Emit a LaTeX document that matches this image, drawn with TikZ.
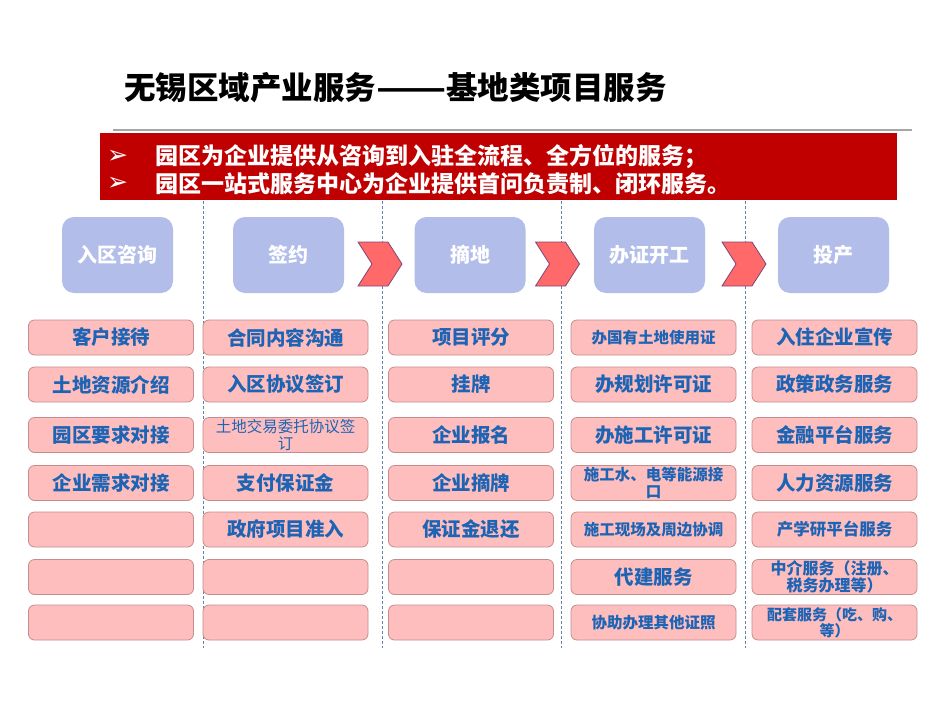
\documentclass[tikz,border=0pt]{standalone}
\usepackage{fontspec}
\usepackage{graphicx}
\setmainfont{Noto Sans CJK SC}
\newfontfamily\dejavu{DejaVu Sans}
\usetikzlibrary{shapes.symbols}
\definecolor{banred}{RGB}{192,0,0}
\definecolor{lav}{RGB}{178,189,234}
\definecolor{pinkf}{RGB}{255,190,190}
\definecolor{pinkd}{RGB}{196,140,140}
\definecolor{txtblue}{RGB}{30,100,180}
\definecolor{chev}{RGB}{255,105,105}
\definecolor{chevd}{RGB}{125,70,120}
\definecolor{dashc}{RGB}{100,130,170}
\tikzset{
  stage/.style={rounded corners=12pt, fill=lav, minimum width=111pt, minimum height=76pt,
    text=white, font=\bfseries\fontsize{20}{22}\selectfont, inner sep=0pt},
  item/.style={rounded corners=6pt, fill=pinkf, draw=pinkd, line width=0.8pt,
    minimum width=165pt, minimum height=35pt, text=txtblue,
    font=\bfseries\fontsize{19.5}{21}\selectfont, inner sep=0pt, align=center},
  small/.style={font=\bfseries\fontsize{15.5}{16.5}\selectfont},
  thin/.style={font=\fontsize{15.5}{16.5}\selectfont},
  chevron/.style={signal, signal from=west, signal to=east, signal pointer angle=115,
    fill=chev, draw=chevd, line width=0.8pt, minimum width=44pt, minimum height=44pt, inner sep=0pt},
  divider/.style={dashc, line width=0.6pt, dash pattern=on 3pt off 2pt},
  bantext/.style={text=white, font=\bfseries\fontsize{23}{25}\selectfont, anchor=west, inner sep=0pt},
  bullet/.style={text=white, font=\dejavu\fontsize{25}{26}\selectfont, anchor=west, inner sep=0pt}
}
\begin{document}
\begin{tikzpicture}[x=1pt,y=-1pt]
\useasboundingbox (0,0) rectangle (950,712);
% title
\node[anchor=west, inner sep=0pt, font=\bfseries\fontsize{31.5}{33}\selectfont] (title) at (124,88) {无锡区域产业服务\scalebox{1.3}[1]{——}基地类项目服务};
\draw[gray!70, line width=1.5pt] (113,130) -- (912,130);
% banner
\fill[banred] (100,133) rectangle (897,200);
\node[bullet] (b1) at (107,157) {➢};
\node[bullet] (b2) at (107,184) {➢};
\node[bantext] (l1) at (155,157) {园区为企业提供从咨询到入驻全流程、全方位的服务；};
\node[bantext] (l2) at (155,184) {园区一站式服务中心为企业提供首问负责制、闭环服务。};
% dividers
\foreach \x in {203,382,561,745} \draw[divider] (\x,201) -- (\x,648);
% stages
\node[stage] (t1) at (117.5,255) {入区咨询};
\node[stage] (t2) at (288.5,255) {签约};
\node[stage] (t3) at (470,255) {摘地};
\node[stage] (t4) at (649.5,255) {办证开工};
\node[stage] (t5) at (833.5,255) {投产};
\node[chevron] (a1) at (380,264) {};
\node[chevron] (a2) at (557.5,264) {};
\node[chevron] (a3) at (744,264) {};
% column 1
\node[item] (c11) at (111,337.5) {客户接待};
\node[item] (c12) at (111,384.5) {土地资源介绍};
\node[item] (c13) at (111,435) {园区要求对接};
\node[item] (c14) at (111,483) {企业需求对接};
\node[item] (c15) at (111,529.5) {};
\node[item] (c16) at (111,577) {};
\node[item] (c17) at (111,622.5) {};
% column 2
\node[item] (c21) at (285.5,337.5) {合同内容沟通};
\node[item] (c22) at (285.5,384.5) {入区协议签订};
\node[item, thin] (c23) at (285.5,435) {土地交易委托协议签\\订};
\node[item] (c24) at (285.5,483) {支付保证金};
\node[item] (c25) at (285.5,529.5) {政府项目准入};
\node[item] (c26) at (285.5,577) {};
\node[item] (c27) at (285.5,622.5) {};
% column 3
\node[item] (c31) at (471,337.5) {项目评分};
\node[item] (c32) at (471,384.5) {挂牌};
\node[item] (c33) at (471,435) {企业报名};
\node[item] (c34) at (471,483) {企业摘牌};
\node[item] (c35) at (471,529.5) {保证金退还};
\node[item] (c36) at (471,577) {};
\node[item] (c37) at (471,622.5) {};
% column 4
\node[item, small] (c41) at (653.5,337.5) {办国有土地使用证};
\node[item] (c42) at (653.5,384.5) {办规划许可证};
\node[item] (c43) at (653.5,435) {办施工许可证};
\node[item, small] (c44) at (653.5,483) {施工水、电等能源接\\口};
\node[item, small] (c45) at (653.5,529.5) {施工现场及周边协调};
\node[item] (c46) at (653.5,577) {代建服务};
\node[item, small] (c47) at (653.5,622.5) {协助办理其他证照};
% column 5
\node[item] (c51) at (834.5,337.5) {入住企业宣传};
\node[item] (c52) at (834.5,384.5) {政策政务服务};
\node[item] (c53) at (834.5,435) {金融平台服务};
\node[item] (c54) at (834.5,483) {人力资源服务};
\node[item, font=\bfseries\fontsize{16.5}{18}\selectfont] (c55) at (834.5,529.5) {产学研平台服务};
\node[item, font=\bfseries\fontsize{16}{17}\selectfont] (c56) at (834.5,577) {中介服务（注册、\\税务办理等）};
\node[item, font=\bfseries\fontsize{15}{16}\selectfont] (c57) at (834.5,622.5) {配套服务（吃、购、\\等）};
\end{tikzpicture}
\end{document}
